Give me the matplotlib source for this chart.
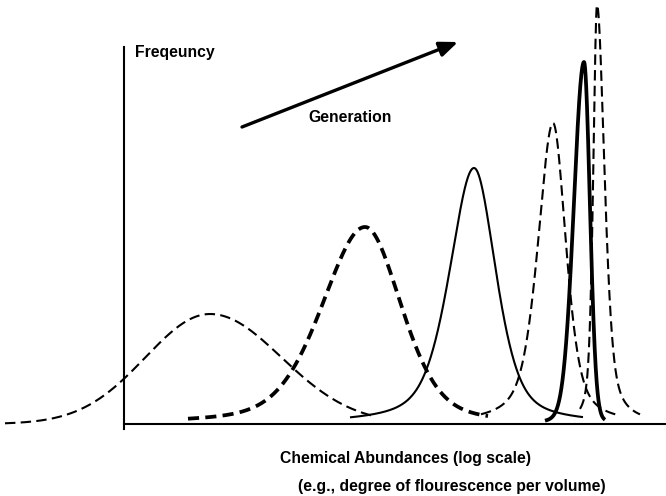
import numpy as np
import matplotlib.pyplot as plt

plt.rcParams['font.family'] = ['Liberation Sans', 'DejaVu Sans']
plt.rcParams['lines.scale_dashes'] = False

# One distribution per generation: peak position, height, left/right half widths,
# Lorentzian share of the profile, drawn range and line style
centers = [8.6, 24.1, 35.0, 42.9, 46.0, 47.3]
heights = [11.0, 19.7, 25.6, 30.1, 36.2, 41.9]
hw_left = [7.6, 5.1, 2.9, 1.8, 1.2, 0.45]
hw_right = [8.4, 4.3, 2.6, 1.55, 0.7, 0.9]
eta = [0.0, 0.35, 0.5, 0.55, 0.1, 0.55]
x_start = [-11.9, 6.4, 22.6, 35.7, 42.1, 45.6]
x_end = [25.1, 36.4, 45.9, 49.3, 48.1, 51.6]
styles = ['thin_dash', 'thick_dash', 'thin_solid', 'thin_dash', 'thick_solid', 'thin_dash']

line_kw = {
    'thin_dash': dict(lw=1.5, dashes=(7.5, 3.8)),
    'thick_dash': dict(lw=2.7, dashes=(8, 4.5)),
    'thin_solid': dict(lw=1.5),
    'thick_solid': dict(lw=2.7),
}


def peak(x, c, h, wl, wr, e):
    w = np.where(x < c, wl, wr)
    u = (x - c) / w
    gauss = np.exp(-np.log(2) * u ** 2)
    lorentz = 1.0 / (1.0 + u ** 2)
    return h * ((1 - e) * gauss + e * lorentz)


fig = plt.figure(figsize=(6.66, 4.96), dpi=100)
ax = fig.add_axes([0, 0, 1, 1])
ax.set_xlim(-12.4, 54.2)
ax.set_ylim(-7.2, 42.4)

for c, h, wl, wr, e, x0, x1, st in zip(centers, heights, hw_left, hw_right,
                                       eta, x_start, x_end, styles):
    x = np.linspace(x0, x1, 600)
    ax.plot(x, peak(x, c, h, wl, wr, e), color='black',
            solid_capstyle='butt', dash_capstyle='butt', **line_kw[st])

# axes drawn as two plain lines crossing at the origin
for side in ['top', 'right']:
    ax.spines[side].set_visible(False)
ax.spines['left'].set_position(('data', 0))
ax.spines['bottom'].set_position(('data', 0))
ax.spines['left'].set_bounds(-0.5, 37.7)
ax.spines['bottom'].set_bounds(0, 54.2)
ax.spines['left'].set_linewidth(1.5)
ax.spines['bottom'].set_linewidth(1.5)
ax.set_xticks([])
ax.set_yticks([])

fs = 11.3
ax.text(1.1, 37.2, 'Freqeuncy', fontsize=fs, fontweight='bold',
        ha='left', va='center')

ax.annotate('', xy=(33.4, 38.2), xytext=(11.8, 29.7),
            arrowprops=dict(arrowstyle='-|>,head_length=1.1,head_width=0.45',
                            lw=2.4, color='black', shrinkA=0, shrinkB=0))
ax.text(22.6, 30.6, 'Generation', fontsize=fs, fontweight='bold',
        ha='center', va='center')

ax.text(28.2, -3.4, 'Chemical Abundances (log scale)', fontsize=fs,
        fontweight='bold', ha='center', va='center')
ax.text(32.8, -6.3, '(e.g., degree of flourescence per volume)', fontsize=fs,
        fontweight='bold', ha='center', va='center')

fig.savefig('out.png', dpi=100)
